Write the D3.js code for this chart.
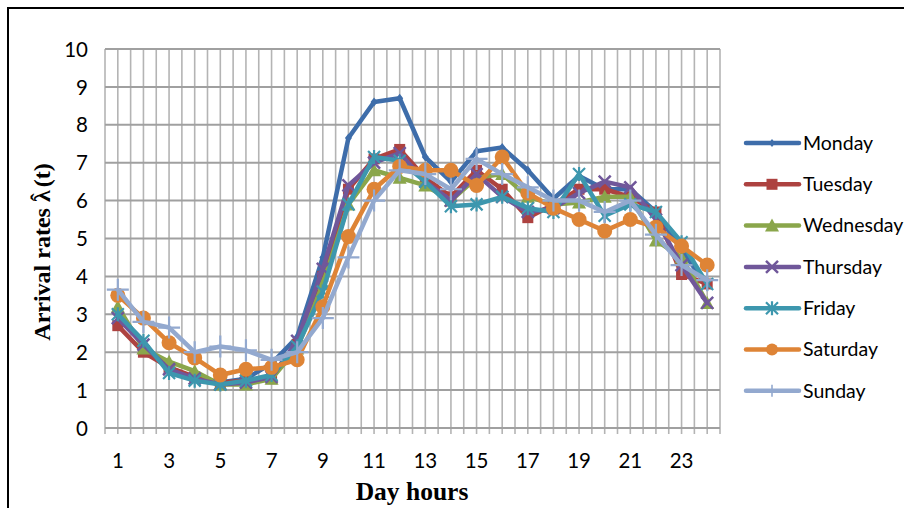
<!DOCTYPE html>
<html>
<head>
<meta charset="utf-8">
<script src="https://cdn.jsdelivr.net/npm/d3@7"></script>
<style>
  html, body { margin: 0; padding: 0; background: #fff; }
  svg { display: block; }
</style>
</head>
<body>
<svg id="chart" width="904" height="508"></svg>
<script>
// ---- data ----
const hours = d3.range(1, 25);
const xTickLabels = [1, 3, 5, 7, 9, 11, 13, 15, 17, 19, 21, 23];
const yTickLabels = [0, 1, 2, 3, 4, 5, 6, 7, 8, 9, 10];
const seriesNames = ["Monday", "Tuesday", "Wednesday", "Thursday", "Friday", "Saturday", "Sunday"];

const monday    = [3.0, 2.2, 1.6, 1.3, 1.2, 1.3, 1.7, 2.4, 4.5, 7.65, 8.6, 8.7, 7.15, 6.5, 7.3, 7.4, 6.8, 6.05, 6.65, 6.3, 6.3, 5.7, 4.7, 3.75];
const tuesday   = [2.7, 2.0, 1.6, 1.35, 1.2, 1.25, 1.3, 2.2, 4.0, 6.3, 7.1, 7.35, 6.6, 6.1, 6.8, 6.3, 5.55, 5.9, 6.3, 6.3, 6.1, 5.7, 4.05, 3.8];
const wednesday = [3.2, 2.1, 1.75, 1.5, 1.15, 1.15, 1.3, 2.1, 3.8, 5.9, 6.8, 6.6, 6.4, 6.0, 6.6, 6.7, 6.1, 5.9, 5.95, 6.1, 6.1, 4.95, 4.5, 3.3];
const thursday  = [2.9, 2.2, 1.55, 1.3, 1.15, 1.2, 1.35, 2.3, 4.2, 6.4, 7.0, 7.25, 6.5, 6.0, 6.7, 6.1, 5.7, 5.8, 6.2, 6.5, 6.35, 5.5, 4.3, 3.3];
const friday    = [3.0, 2.3, 1.45, 1.25, 1.15, 1.25, 1.4, 2.15, 3.6, 5.9, 7.15, 7.05, 6.5, 5.85, 5.9, 6.1, 5.8, 5.7, 6.7, 5.6, 5.9, 5.7, 4.9, 3.8];
const saturday  = [3.5, 2.9, 2.25, 1.85, 1.4, 1.55, 1.6, 1.8, 3.2, 5.05, 6.3, 6.9, 6.8, 6.8, 6.4, 7.15, 6.2, 5.8, 5.5, 5.2, 5.5, 5.3, 4.8, 4.3];
const sunday    = [3.65, 2.8, 2.65, 2.0, 2.15, 2.05, 1.8, 2.0, 2.9, 4.5, 6.0, 6.8, 6.7, 6.3, 7.1, 6.7, 6.35, 6.0, 6.0, 5.7, 6.0, 5.1, 4.3, 3.9];

const seriesValues = [monday, tuesday, wednesday, thursday, friday, saturday, sunday];
const seriesColors = ["#3E6DAA", "#AD4240", "#8AA64B", "#70579A", "#3D97AE", "#DE8436", "#93A9CF"];
const seriesMarkers = ["diamond", "square", "triangle", "x", "asterisk", "circle", "plus"];

// ---- layout ----
const svg = d3.select("#chart");
const plot = { left: 105, right: 720, top: 49, bottom: 428 };

const x = d3.scaleBand().domain(hours).range([plot.left, plot.right]).paddingInner(0).paddingOuter(0);
const xc = h => x(h) + x.bandwidth() / 2;
const xGrid = d3.scaleLinear().domain([0.5, 24.5]).range([plot.left, plot.right]);
const y = d3.scaleLinear().domain([0, 10]).range([plot.bottom, plot.top]);

// outer border
svg.append("rect").attr("x", 8).attr("y", 8).attr("width", 920).attr("height", 520)
  .attr("fill", "none").attr("stroke", "#000").attr("stroke-width", 2);

// vertical grid (major + minor)
const gridVals = d3.range(0, 49).map(k => 0.5 + k * 0.5);
svg.append("g").selectAll("line").data(gridVals).join("line")
  .attr("x1", d => xGrid(d)).attr("x2", d => xGrid(d))
  .attr("y1", plot.top).attr("y2", plot.bottom + 6)
  .attr("stroke", "#B4B4B4").attr("stroke-width", 1.6);

// horizontal grid
svg.append("g").selectAll("line").data(yTickLabels).join("line")
  .attr("x1", plot.left).attr("x2", plot.right)
  .attr("y1", d => y(d)).attr("y2", d => y(d))
  .attr("stroke", "#A0A0A0").attr("stroke-width", 2);

// y axis tick labels
const yAxis = d3.axisLeft(y).tickValues(yTickLabels).tickSize(0).tickPadding(0).tickFormat(d3.format("d"));
const gy = svg.append("g").attr("transform", `translate(${plot.left - 17},0)`).call(yAxis);
gy.select(".domain").remove();
gy.selectAll("text").attr("font-family", "Lato, 'Open Sans', sans-serif").attr("font-size", 20.5)
  .attr("fill", "#000").attr("dy", "0.35em");

// x axis tick labels
const xAxis = d3.axisBottom(x).tickValues(xTickLabels).tickSize(0).tickPadding(0);
const gx = svg.append("g").attr("transform", `translate(0,${plot.bottom + 26})`).call(xAxis);
gx.select(".domain").remove();
gx.selectAll("text").attr("font-family", "Lato, 'Open Sans', sans-serif").attr("font-size", 20.5)
  .attr("fill", "#000").attr("dy", "0.7em");

// axis titles
svg.append("text").attr("x", 412).attr("y", 500).attr("text-anchor", "middle")
  .attr("font-family", "'Liberation Serif', 'Times New Roman', serif").attr("font-weight", "bold")
  .attr("font-size", 25.5).text("Day hours");

const yt = svg.append("text").attr("transform", "translate(50,252) rotate(-90)").attr("text-anchor", "middle")
  .attr("font-family", "'Liberation Serif', 'Times New Roman', serif").attr("font-weight", "bold")
  .attr("font-size", 24);
yt.append("tspan").text("Arrival rates \u03BB");
yt.append("tspan").attr("dx", -11).attr("dy", -3).text("\u02C6");
yt.append("tspan").attr("dx", 0).attr("dy", 3).text(" (t)");

// markers
function drawMarker(g, type, color, size) {
  const s = size;
  switch (type) {
    case "diamond":
      g.append("path").attr("d", `M0,${-s*0.45}L${s*0.35},0L0,${s*0.45}L${-s*0.35},0Z`).attr("fill", color);
      break;
    case "square":
      g.append("rect").attr("x", -5.5).attr("y", -5.5).attr("width", 11).attr("height", 11).attr("fill", color);
      break;
    case "triangle":
      g.append("path").attr("d", "M0,-7L7,6L-7,6Z").attr("fill", color);
      break;
    case "x":
      g.append("path").attr("d", "M-6,-6L6,6M-6,6L6,-6").attr("stroke", color).attr("stroke-width", 2.5);
      break;
    case "asterisk":
      g.append("path").attr("d", "M-6,-6L6,6M-6,6L6,-6M0,-7L0,7").attr("stroke", color).attr("stroke-width", 2.2);
      break;
    case "circle":
      g.append("circle").attr("r", 7.5).attr("fill", color);
      break;
    case "plus":
      g.append("path").attr("d", "M-11,0L11,0M0,-11L0,11").attr("stroke", color).attr("stroke-width", 2.2);
      break;
  }
}

const line = d3.line().x((d, i) => xc(hours[i])).y(d => y(d));

seriesNames.forEach((name, si) => {
  const vals = seriesValues[si];
  const color = seriesColors[si];
  const g = svg.append("g");
  g.append("path").attr("d", line(vals)).attr("fill", "none").attr("stroke", color)
    .attr("stroke-width", 4.5).attr("stroke-linejoin", "round").attr("stroke-linecap", "round");
  vals.forEach((v, i) => {
    const mg = g.append("g").attr("transform", `translate(${xc(hours[i])},${y(v)})`);
    drawMarker(mg, seriesMarkers[si], color, 10);
  });
});

// legend
const legendTop = 143, legendStep = 41.3;
seriesNames.forEach((name, si) => {
  const ly = legendTop + si * legendStep;
  const g = svg.append("g");
  g.append("line").attr("x1", 746).attr("x2", 799).attr("y1", ly).attr("y2", ly)
    .attr("stroke", seriesColors[si]).attr("stroke-width", 4.5).attr("stroke-linecap", "round");
  const mg = g.append("g").attr("transform", `translate(772,${ly})`);
  const mk = seriesMarkers[si];
  if (mk === "plus") {
    mg.append("path").attr("d", "M0,-6L0,6").attr("stroke", seriesColors[si]).attr("stroke-width", 1.6);
  } else if (mk === "circle") {
    mg.append("circle").attr("r", 6).attr("fill", seriesColors[si]);
  } else {
    drawMarker(mg, mk, seriesColors[si], 9);
  }
  g.append("text").attr("x", 803).attr("y", ly).attr("dy", "0.35em")
    .attr("font-family", "Lato, 'Open Sans', sans-serif").attr("font-size", 19.5)
    .attr("fill", "#000").text(name);
});
</script>
</body>
</html>
